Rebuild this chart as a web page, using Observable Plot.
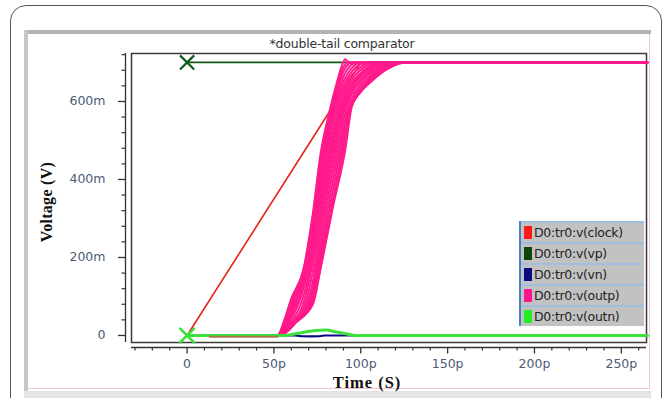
<!DOCTYPE html>
<html><head><meta charset="utf-8">
<script src="https://cdn.jsdelivr.net/npm/d3@7"></script>
<script src="https://cdn.jsdelivr.net/npm/@observablehq/plot@0.6"></script>
<style>
html,body{margin:0;padding:0;background:#fff;width:669px;height:398px;overflow:hidden;}
body{position:relative;font-family:"DejaVu Sans",Verdana,sans-serif;}
.abs{position:absolute;}
#outer{left:10px;top:5px;width:652px;height:440px;border:1px solid #555;border-radius:16px;box-sizing:border-box;}
#pTop{left:24px;top:30px;width:627px;height:4px;background:#b3b3b3;}
#pLeft{left:24px;top:30px;width:4px;height:362px;background:#c6c6c6;}
#pRight{left:649px;top:34px;width:1px;height:355px;background:#f0c4d2;}
#pBottom{left:28px;top:388px;width:622px;height:1px;background:#f0c4d2;}
#pBand{left:24px;top:391px;width:627px;height:8px;background:#e4e4e4;}
#title{left:342px;top:43px;transform:translate(-50%,-50%);font-size:12.5px;color:#333;white-space:nowrap;letter-spacing:-0.2px;}
#chart{left:0;top:0;}
#ylab{left:47px;top:202px;transform:translate(-50%,-50%) rotate(-90deg);font-family:"Liberation Serif","Times New Roman",serif;font-weight:bold;font-size:16px;letter-spacing:0.3px;color:#111;white-space:nowrap;}
#xlab{left:367px;top:383px;transform:translate(-50%,-50%);font-family:"Liberation Serif","Times New Roman",serif;font-weight:bold;font-size:16.5px;letter-spacing:1px;color:#111;white-space:nowrap;}
#legend{left:519px;top:221px;width:123px;border-left:2px solid #4a7fc0;background:#c2c2c2;}
.row{height:19px;border-top:2px solid #9fbfe0;display:flex;align-items:center;font-size:12.5px;color:#222;white-space:nowrap;overflow:hidden;letter-spacing:-0.3px;}
.sw{width:8px;height:13px;margin:0 2px 0 3px;flex:none;}
</style></head><body>
<div id="outer" class="abs"></div>
<div id="pTop" class="abs"></div>
<div id="pLeft" class="abs"></div>
<div id="pRight" class="abs"></div>
<div id="pBottom" class="abs"></div>
<div id="pBand" class="abs"></div>
<div id="chart" class="abs"></div>
<div id="title" class="abs">*double-tail comparator</div>
<div id="ylab" class="abs">Voltage (V)</div>
<div id="xlab" class="abs">Time (S)</div>
<div id="legend" class="abs"></div>
<script>
// ---- series names / colours ----
const seriesNames = ["D0:tr0:v(clock)", "D0:tr0:v(vp)", "D0:tr0:v(vn)", "D0:tr0:v(outp)", "D0:tr0:v(outn)"];
const seriesColors = ["#e8231a", "#0f5a16", "#0a0a85", "#ff1a8c", "#3be03b"];
const legendSwatch = ["#ff1a1a", "#0a460a", "#0a0a80", "#ff1493", "#22ee22"];

// ---- data (time in ps, voltage in mV) ----
const clockT = [0, 100, 265];
const clockV = [0, 700, 700];
const vpT = [0, 265];
const vpV = [700, 700];
const vnT = [0, 62, 66, 71, 76, 79, 265];
const vnV = [0, 0, -2, -2.5, -2, 0, 0];
const outnT = [0, 56, 62, 68, 74, 80, 86, 92, 97, 265];
const outnV = [0, 0, 4, 9, 13, 14, 9, 4, 0, 0];
const residueT = [13, 52];
const residueV = [-3.5, -3.5];

// outp: family of switching runs, [time, voltage] pairs
const outpRuns = [
  [[0,0],[52,0],[56,40],[60,95],[67,170],[72,300],[77,470],[82,575],[86,645],[89,690],[91,708],[93,700],[265,700]],
  [[0,0],[52,0],[56.5,40],[60.5,95],[67.5,175],[72.5,305],[77.5,470],[82.5,575],[86.5,642],[90,688],[93,702],[95,700],[265,700]],
  [[0,0],[52,0],[57,40],[61,95],[68,180],[73,310],[78,470],[83,575],[87,640],[91,685],[95,700],[265,700]],
  [[0,0],[52,0],[57,38],[61.5,92],[68.5,182],[73.5,310],[78.5,468],[83.5,572],[87.5,635],[92,680],[96,698],[99,700],[265,700]],
  [[0,0],[52,0],[57,35],[62,90],[69,185],[74,310],[79,465],[84,570],[88,630],[93,675],[98,697],[102,700],[265,700]],
  [[0,0],[52.3,0],[57.5,35],[62.5,88],[69.5,188],[74.5,312],[79.5,462],[84.5,570],[89,630],[94,671],[99.5,695],[104,700],[265,700]],
  [[0,0],[52.5,0],[58,35],[63,85],[70,190],[75,315],[80,460],[85,570],[90,630],[95,668],[101,692],[106,700],[265,700]],
  [[0,0],[52.5,0],[58.5,35],[63.5,82],[70.5,190],[75.5,315],[81,462],[86,570],[91,629],[96.5,666],[102.5,690],[108,700],[265,700]],
  [[0,0],[52.5,0],[59,35],[64,80],[71,190],[76,315],[82,465],[87,570],[92,628],[98,665],[104,688],[110,700],[265,700]],
  [[0,0],[52.8,0],[59.5,32],[65,75],[71.5,185],[76.5,318],[82.5,462],[87.5,567],[92.5,624],[98.5,662],[105,687],[111.5,700],[265,700]],
  [[0,0],[53,0],[60,30],[66,70],[72,180],[77,320],[83,460],[88,565],[93,620],[99,660],[106,687],[113,700],[265,700]],
  [[0,0],[53,0],[60.5,30],[67,70],[72.5,165],[77.5,310],[84,462],[89,567],[94,620],[100,657],[107,685],[114.5,700],[265,700]],
  [[0,0],[53,0],[61,30],[68,70],[73,150],[78,300],[85,465],[90,570],[95,620],[101,655],[108,683],[116,700],[265,700]],
  [[0,0],[53,0],[61.5,31],[69,72],[74,155],[79,300],[86,465],[91,570],[96,617],[102,652],[109,681],[117.5,700],[265,700]],
  [[0,0],[53,0],[62,32],[70,75],[75,160],[80,300],[87,465],[92,570],[97,615],[103,650],[110,680],[119,700],[265,700]],
  [[0,0],[53.3,0],[62.5,33],[71,78],[75.5,162],[81,300],[88,467],[93,575],[98,617],[104,650],[111,679],[120.5,700],[265,700]],
  [[0,0],[53.5,0],[63,35],[72,80],[76,165],[82,300],[89,470],[94,580],[99,620],[105,650],[112,678],[122,700],[265,700]],
  [[0,0],[53.5,0],[63,35],[72.3,81],[76.4,166],[83,315],[90,472],[94.5,585],[99.5,622],[106,652],[113.5,680],[124,700],[265,700]],
  [[0,0],[53.5,0],[63,35],[72.6,82],[76.7,167],[84,330],[91,474],[95,590],[100,625],[107,655],[115,682],[126,700],[265,700]]
];

// ---- axes ticks ----
const xMajor = [0, 50, 100, 150, 200, 250];
const xMinor = [-30, -20, -10, 10, 20, 30, 40, 60, 70, 80, 90, 110, 120, 130, 140, 160, 170, 180, 190, 210, 220, 230, 240, 260];
const yMajor = [0, 200, 400, 600];
const yMinor = [40, 80, 120, 160, 240, 280, 320, 360, 440, 480, 520, 560, 640, 680, 720];
const xDomain = [-32, 264.5];
const yDomain = [-18, 723];

const pts = (T, V) => T.map((t, i) => ({t, v: V[i]}));
const outpData = outpRuns.flatMap((run, k) => run.map(([t, v]) => ({t, v, run: k})));

const axisColor = "#333";
const labelColor = "#4b5a78";
const tickFont = "DejaVu Sans, Verdana, sans-serif";

const chart = Plot.plot({
  width: 669, height: 398,
  marginLeft: 125, marginRight: 23, marginTop: 53, marginBottom: 51,
  style: {background: "transparent", fontFamily: tickFont, fontSize: "12.5px", color: labelColor},
  x: {domain: xDomain, insetLeft: 6, label: null},
  y: {domain: yDomain, insetBottom: 5, label: null},
  marks: [
    Plot.frame({insetLeft: 6, insetBottom: 5, stroke: "#3a3a3a", strokeWidth: 1.5}),
    Plot.ruleX([xDomain[0]], {dx: -6, y1: yDomain[0], y2: yDomain[1], stroke: axisColor, strokeWidth: 1.3}),
    Plot.ruleY([yDomain[0]], {dy: 5, x1: xDomain[0], x2: xDomain[1], stroke: axisColor, strokeWidth: 1.3}),
    Plot.axisY({ticks: yMajor, tickSize: 7, tickPadding: 13, tickFormat: d => d === 0 ? "0" : d + "m", label: null, stroke: axisColor, fill: labelColor, strokeWidth: 1.3, fontSize: 12.5, letterSpacing: -0.3}),
    Plot.axisY({ticks: yMinor, tickSize: 3.5, tickFormat: () => "", label: null, stroke: axisColor, strokeWidth: 1.2}),
    Plot.axisX({ticks: xMajor, tickSize: 6.5, tickPadding: 5, tickFormat: d => d === 0 ? "0" : d + "p", label: null, stroke: axisColor, fill: labelColor, strokeWidth: 1.3, fontSize: 12.5, letterSpacing: -0.3}),
    Plot.axisX({ticks: xMinor, tickSize: 3.5, tickFormat: () => "", label: null, stroke: axisColor, strokeWidth: 1.2}),
    Plot.line(pts(clockT, clockV), {x: "t", y: "v", stroke: seriesColors[0], strokeWidth: 1.6}),
    Plot.line(pts(vpT, vpV), {x: "t", y: "v", stroke: seriesColors[1], strokeWidth: 1.8}),
    Plot.line(pts(vnT, vnV), {x: "t", y: "v", stroke: seriesColors[2], strokeWidth: 2.2}),
    Plot.line(outpData, {x: "t", y: "v", z: "run", stroke: seriesColors[3], strokeWidth: 2, curve: "monotone-x"}),
    Plot.line(pts(outnT, outnV), {x: "t", y: "v", stroke: seriesColors[4], strokeWidth: 3, curve: "monotone-x"}),
    Plot.line(pts(residueT, residueV), {x: "t", y: "v", stroke: "#a8764f", strokeWidth: 2}),
    Plot.dot([{t: vpT[0], v: vpV[0]}], {x: "t", y: "v", symbol: "times", r: 6.5, stroke: seriesColors[1], strokeWidth: 2.2}),
    Plot.dot([{t: outnT[0], v: outnV[0]}], {x: "t", y: "v", symbol: "times", r: 7, stroke: seriesColors[4], strokeWidth: 2.6})
  ]
});
document.getElementById("chart").appendChild(chart);

const legend = document.getElementById("legend");
seriesNames.forEach((name, i) => {
  const row = document.createElement("div");
  row.className = "row";
  const sw = document.createElement("span");
  sw.className = "sw";
  sw.style.background = legendSwatch[i];
  const tx = document.createElement("span");
  tx.textContent = name;
  row.appendChild(sw); row.appendChild(tx);
  legend.appendChild(row);
});
</script>
</body></html>
